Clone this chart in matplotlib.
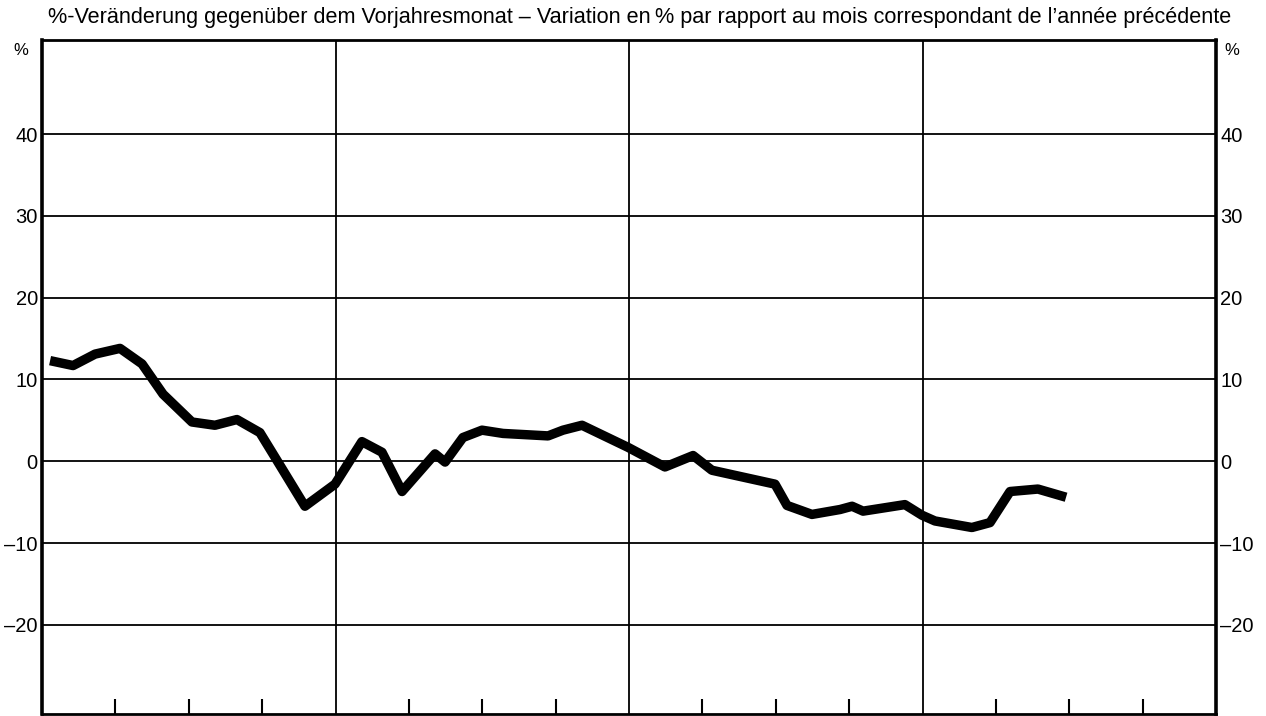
import matplotlib
matplotlib.use("Agg")
import matplotlib.pyplot as plt

plt.rcParams['font.family'] = ['Liberation Sans', 'DejaVu Sans']

# Monatsposition (0 = Beginn des ersten Jahres) und Veränderung in %
months = [0.33, 1.27, 2.17, 3.19, 4.09, 4.95, 6.13, 7.07, 7.97, 8.91,
          9.73, 10.75, 11.98, 13.08, 13.90, 14.72, 16.07, 16.48, 17.21, 17.99,
          18.85, 20.69, 21.30, 22.08, 23.96, 25.47, 26.62, 27.39, 29.97, 30.46,
          31.48, 32.63, 33.12, 33.57, 35.28, 35.98, 36.51, 38.02, 38.76, 39.58,
          40.72, 41.87]
change = [12.3, 11.7, 13.1, 13.8, 11.9, 8.2, 4.8, 4.4, 5.1, 3.5,
          -0.5, -5.5, -2.8, 2.4, 1.1, -3.7, 0.9, -0.1, 2.9, 3.8,
          3.4, 3.1, 3.8, 4.4, 1.7, -0.7, 0.7, -1.1, -2.8, -5.4,
          -6.5, -5.9, -5.5, -6.1, -5.3, -6.6, -7.3, -8.1, -7.5, -3.7,
          -3.4, -4.4]

y_ticks = [-20, -10, 0, 10, 20, 30, 40]
year_lines = [12, 24, 36]
quarter_ticks = [3, 6, 9, 15, 18, 21, 27, 30, 33, 39, 42, 45]

title = ("%-Veränderung gegenüber dem Vorjahresmonat \u2013 Variation en\u2009% "
         "par rapport au mois correspondant de l\u2019année précédente")

fig = plt.figure(figsize=(12.66, 7.16), dpi=100)
ax = fig.add_axes([42 / 1266, 2 / 716, (1216 - 42) / 1266, (714 - 40) / 716])

ax.set_xlim(0, 48)
ax.set_ylim(-30.9, 51.5)

for y in y_ticks:
    ax.axhline(y, color='black', lw=1.3, zorder=1)
for x in year_lines:
    ax.axvline(x, color='black', lw=1.3, zorder=1)

ax.plot(months, change, color='black', lw=6.8, solid_joinstyle='round',
        solid_capstyle='butt', zorder=3)

ax.set_xticks(quarter_ticks)
ax.set_xticklabels([])
ax.tick_params(axis='x', direction='in', length=11, width=1.5, bottom=True, top=False)

ax.set_yticks(y_ticks)
ax.set_yticklabels([str(v).replace('-', '\u2013') for v in y_ticks])
ax.tick_params(axis='y', length=0, pad=3, labelsize=14.5,
               left=False, right=False, labelleft=True, labelright=True)

for side in ['left', 'right']:
    ax.spines[side].set_linewidth(2.6)
for side in ['top', 'bottom']:
    ax.spines[side].set_linewidth(2.0)

ax.text(-0.012, 0.985, "%", transform=ax.transAxes, ha='right', va='center', fontsize=12)
ax.text(1.007, 0.985, "%", transform=ax.transAxes, ha='left', va='center', fontsize=12)

fig.text(640 / 1266, 1 - 18 / 716, title, ha='center', va='center', fontsize=15.6)

fig.savefig("out.png", dpi=100)
